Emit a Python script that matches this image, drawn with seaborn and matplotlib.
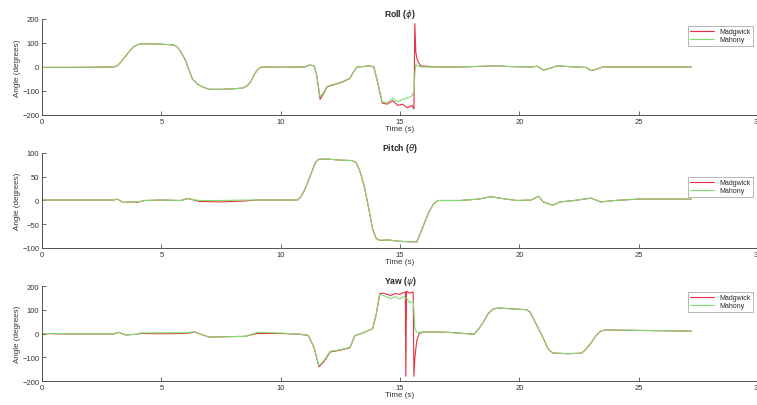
import seaborn as sns
import pandas as pd
import matplotlib
matplotlib.use("Agg")
import matplotlib.pyplot as plt

# ---- data (time in s, angle in degrees) ----
t_roll = [0, 1.0, 2.0, 3.0, 3.15, 3.3, 3.5, 3.7, 3.85, 4.0, 4.2, 4.5, 5.0, 5.5,
          5.65, 5.8, 6.0, 6.15, 6.3, 6.5, 6.7, 7.0, 7.5, 8.0, 8.4, 8.6, 8.75, 8.9,
          9.05, 9.2, 10.0, 11.0, 11.2, 11.4, 11.5, 11.65, 11.8, 11.95, 12.3, 12.6,
          12.9, 13.05, 13.2, 13.5, 13.7, 13.9, 14.05, 14.25, 14.45, 14.7, 14.9,
          15.1, 15.3, 15.5, 15.58, 15.62, 15.66, 15.72, 15.85, 16.5, 17.5, 18.5,
          19.0, 19.5, 20.5, 20.75, 21.0, 21.3, 21.6, 22.0, 22.8, 23.0, 23.2, 23.5,
          24.5, 25.5, 27.2]
roll_madgwick = [-2, -2, -1, 0, 5, 20, 45, 70, 85, 93, 97, 96, 95, 92,
                 85, 65, 30, -10, -50, -70, -82, -93, -93, -91, -88, -78, -60, -30,
                 -8, 0, -1, 0, 8, 5, -30, -135, -110, -82, -72, -62,
                 -48, -20, 0, 2, 5, 0, -60, -150, -155, -140, -160,
                 -155, -170, -160, -175, 180, 60, 30, 5, 0, 0, 3,
                 5, 2, 0, 3, -13, -5, 5, 2, -2, -15, -10, 0,
                 0, 0, 0]
roll_mahony = [-1, -1, -1, 0, 5, 20, 45, 70, 85, 93, 97, 96, 95, 92,
               85, 65, 30, -10, -50, -70, -82, -93, -93, -91, -88, -78, -60, -30,
               -8, 0, -1, 0, 8, 5, -30, -125, -105, -80, -70, -60,
               -47, -20, 0, 2, 5, 0, -60, -145, -150, -130, -145,
               -135, -130, -120, -100, -30, 10, 5, 0, 0, 0, 3,
               5, 2, 0, 3, -13, -5, 5, 2, -2, -15, -10, 0,
               0, 0, 0]

t_pitch = [0, 1, 2, 3.0, 3.15, 3.4, 3.7, 4.0, 4.3, 5, 5.8, 6.1, 6.3, 6.6, 7.5, 8.5,
           9.0, 10.0, 10.7, 10.85, 11.0, 11.3, 11.45, 11.6, 12.0, 12.5, 13.0, 13.15,
           13.3, 13.5, 13.7, 13.85, 14.0, 14.15, 14.5, 15.0, 15.5, 15.7, 15.8, 16.0,
           16.2, 16.4, 16.6, 17.5, 18.3, 18.8, 19.3, 19.9, 20.5, 20.8, 21.0, 21.4,
           21.7, 22.3, 23.0, 23.4, 24.0, 25.0, 26.0, 27.2]
pitch_madgwick = [1, 1, 1, 1, 3, -4, -3, -4, 0, 1, 0, 4, 2, -2, -3, -1,
                  1, 1, 1, 8, 22, 60, 80, 87, 87, 85, 84, 80,
                  65, 30, -20, -60, -80, -84, -83, -86, -87, -87, -75, -50,
                  -25, -7, 0, 0, 3, 8, 4, 0, 1, 9, -3, -10,
                  -3, 0, 5, -3, 0, 3, 3, 3]
pitch_mahony = [1, 1, 1, 1, 3, -4, -3, -3, 0, 1, 0, 4, 2, 0, 0, 1,
                1, 1, 1, 8, 22, 60, 80, 87, 87, 85, 84, 80,
                65, 30, -20, -60, -80, -84, -83, -86, -87, -87, -75, -50,
                -25, -7, 0, 0, 3, 8, 4, 0, 1, 9, -3, -10,
                -3, 0, 5, -3, 0, 3, 3, 3]

t_yaw = [0, 1, 2, 3.0, 3.2, 3.5, 4.0, 4.1, 5.0, 6.0, 6.4, 6.7, 7.0, 7.5, 8.0, 8.5,
         8.8, 9.0, 10.0, 10.8, 11.15, 11.4, 11.6, 11.8, 12.07, 12.5, 12.9, 13.1,
         13.5, 13.85, 14.0, 14.15, 14.3, 14.6, 14.8, 15.0, 15.13, 15.22, 15.24,
         15.27, 15.4, 15.55, 15.58, 15.62, 15.7, 15.8, 16.0, 17.0, 18.1, 18.3,
         18.5, 18.7, 18.9, 19.1, 19.5, 20.3, 20.45, 20.6, 20.8, 21.0, 21.2, 21.4,
         22.0, 22.6, 22.75, 23.0, 23.2, 23.4, 23.6, 25.0, 27.2]
yaw_madgwick = [0, -2, -2, -2, 5, -6, -3, 0, -1, 0, 6, -5, -15, -14, -13, -12,
                -5, 0, 0, -3, -8, -60, -140, -120, -78, -70, -60, -10,
                5, 20, 80, 168, 170, 160, 168, 165, 172, 175, -180,
                178, 170, 175, -180, -100, -30, 0, 7, 5, -3, 20,
                50, 85, 103, 107, 105, 100, 90, 60, 20, -20, -65, -82,
                -85, -83, -70, -40, -10, 10, 15, 13, 10]
yaw_mahony = [0, -1, -1, -1, 5, -6, -3, 2, 3, 3, 7, -5, -15, -14, -13, -12,
              -3, 5, 2, -3, -8, -60, -135, -115, -75, -68, -58, -10,
              5, 20, 80, 165, 160, 147, 155, 145, 155, 150, 148,
              150, 130, 135, 100, 20, 5, 5, 7, 5, -3, 20,
              50, 85, 103, 107, 105, 100, 90, 60, 20, -20, -65, -82,
              -85, -83, -70, -40, -10, 10, 15, 13, 10]

titles = [r"Roll ($\phi$)", r"Pitch ($\theta$)", r"Yaw ($\psi$)"]
ylims = [(-200, 200), (-100, 100), (-200, 200)]
yticks = [[-200, -100, 0, 100, 200], [-100, -50, 0, 50, 100], [-200, -100, 0, 100, 200]]

RED = "#e5303f"
GREEN = "#7fde72"
GREY = "#505050"

sns.set_style("white")
plt.rcParams["font.family"] = ["Liberation Sans", "DejaVu Sans"]

fig = plt.figure(figsize=(7.57, 4.06), dpi=100)
fig.patch.set_facecolor("white")

# axes boxes [left, bottom, width, height] in figure fractions
boxes = [[0.0555, 0.7143, 0.946, 0.2365],
         [0.0555, 0.3867, 0.946, 0.234],
         [0.0555, 0.0591, 0.946, 0.234]]
legend_tops = [0.9335, 0.5616, 0.2783]

panels = [(t_roll, roll_madgwick, roll_mahony),
          (t_pitch, pitch_madgwick, pitch_mahony),
          (t_yaw, yaw_madgwick, yaw_mahony)]

for i, (t, mad, mah) in enumerate(panels):
    ax = fig.add_axes(boxes[i])
    df = pd.DataFrame({"t": t, "Madgwick": mad, "Mahony": mah})
    sns.lineplot(data=df, x="t", y="Madgwick", ax=ax, color=RED, lw=0.8,
                 estimator=None, sort=False, label="Madgwick")
    sns.lineplot(data=df, x="t", y="Mahony", ax=ax, color=GREEN, lw=0.8,
                 estimator=None, sort=False, label="Mahony")

    ax.set_xlim(0, 30)
    ax.set_ylim(*ylims[i])
    ax.set_xticks([0, 5, 10, 15, 20, 25, 30])
    ax.set_yticks(yticks[i])
    ax.tick_params(direction="in", length=3, width=0.6, color=GREY,
                   labelsize=5.5, labelcolor="#333333", pad=2,
                   bottom=True, left=True)
    for side in ["top", "right"]:
        ax.spines[side].set_visible(False)
    for side in ["left", "bottom"]:
        ax.spines[side].set_color(GREY)
        ax.spines[side].set_linewidth(0.7)

    ax.set_title(titles[i], fontsize=6.2, fontweight="bold", pad=2.5)
    ax.set_xlabel("Time (s)", fontsize=5.8, color="#333333", labelpad=0.5)
    ax.set_ylabel("Angle (degrees)", fontsize=5.8, color="#333333", labelpad=1)

    leg = ax.legend(loc="upper right", bbox_to_anchor=(0.9947, legend_tops[i]),
                    bbox_transform=fig.transFigure, borderaxespad=0,
                    fontsize=5, handlelength=3.4, handletextpad=0.8,
                    labelspacing=0.15, borderpad=0.35, fancybox=False,
                    framealpha=1)
    leg.get_frame().set_edgecolor("#9a9a9a")
    leg.get_frame().set_linewidth(0.5)

fig.savefig("out.png", dpi=100, facecolor="white")
